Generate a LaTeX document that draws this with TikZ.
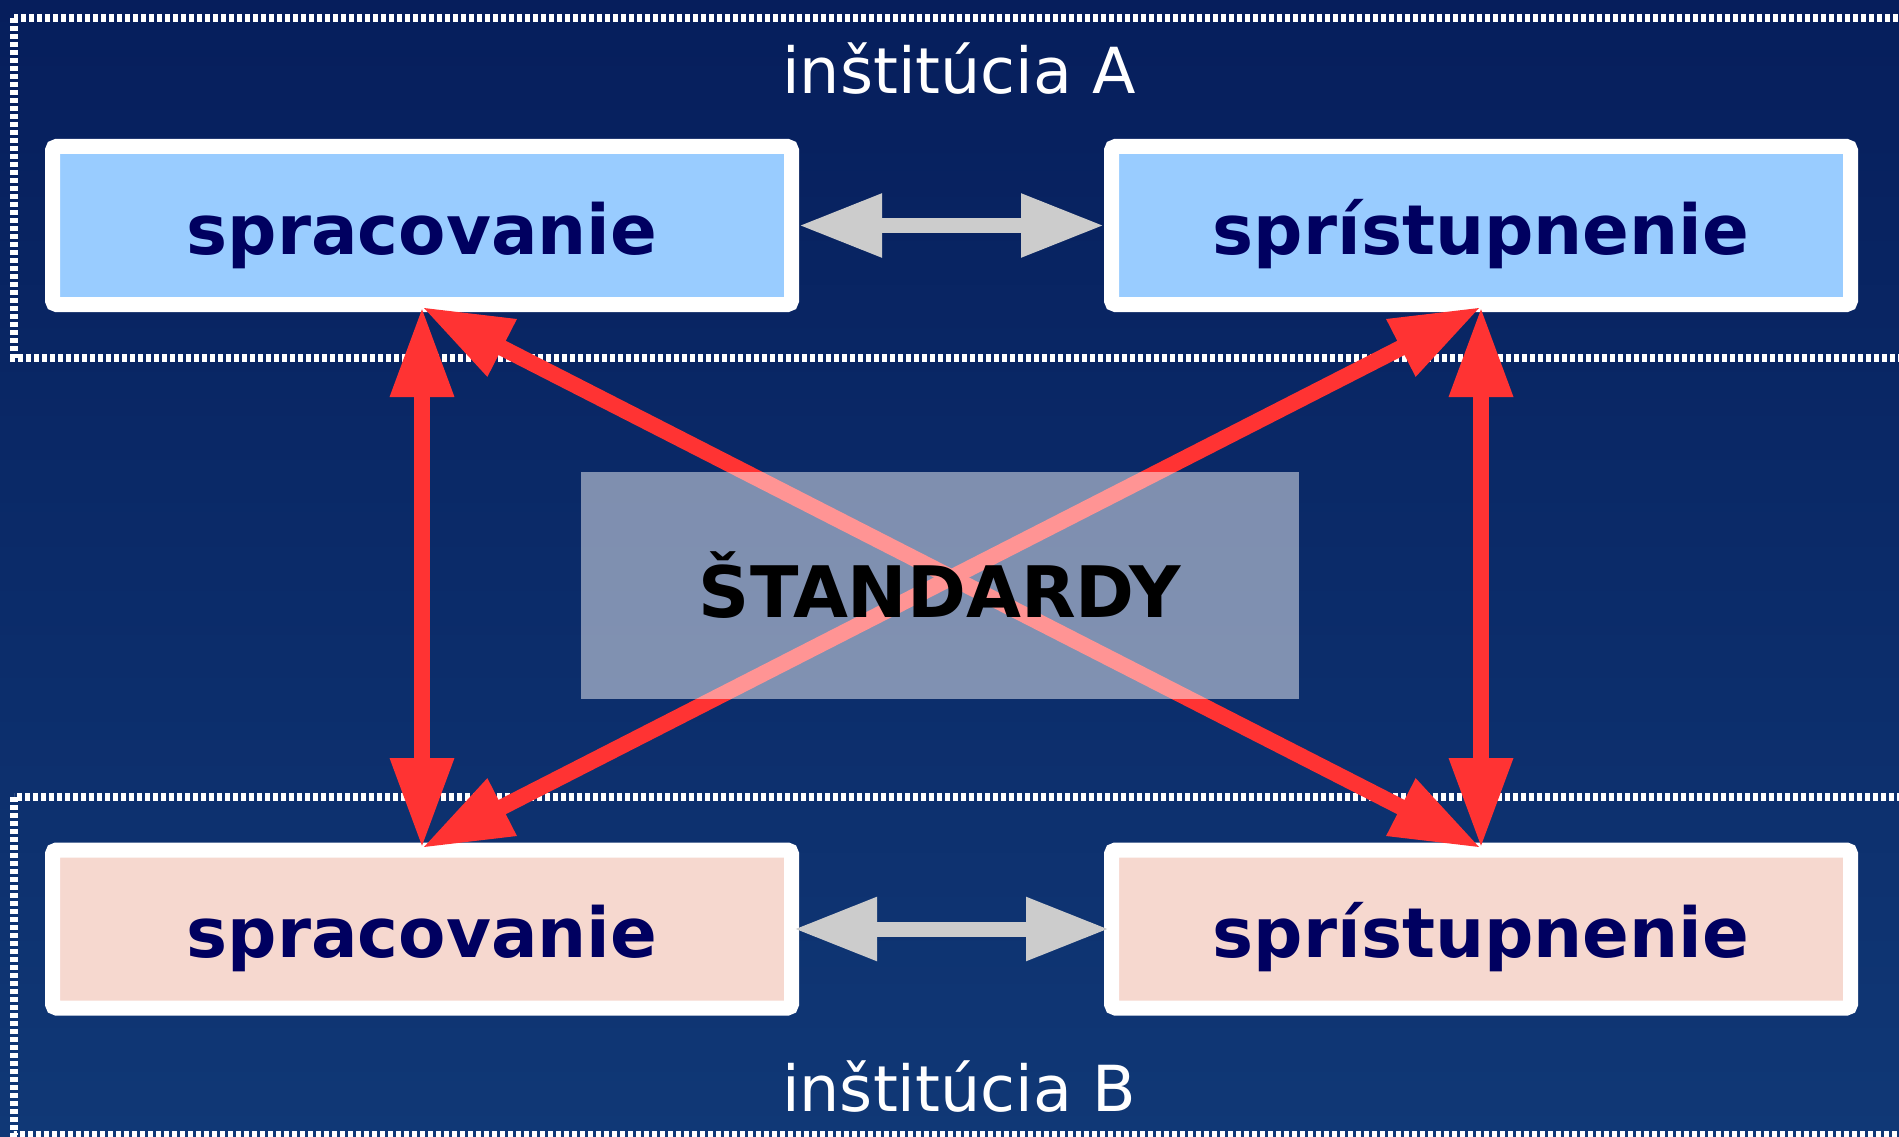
\documentclass[tikz,border=0pt]{standalone}
\usepackage{fontspec}
\setmainfont{DejaVu Sans}
\usetikzlibrary{arrows.meta}
\definecolor{bgtop}{RGB}{6,30,92}
\definecolor{bgbot}{RGB}{16,56,118}
\definecolor{boxblue}{RGB}{153,204,255}
\definecolor{boxpink}{RGB}{246,216,207}
\definecolor{navytext}{RGB}{0,0,96}
\definecolor{redarrow}{RGB}{255,51,51}
\definecolor{greyarrow}{RGB}{204,204,204}
\tikzset{
  procbox/.style={rectangle, draw=white, line width=15pt, rounded corners=4pt,
    minimum width=739pt, minimum height=158pt, inner sep=0pt,
    text height=57pt, text depth=0pt,
    font=\fontsize{69}{80}\selectfont\bfseries, text=navytext},
  instbox/.style={draw=white, line width=8pt, dash pattern=on 5pt off 3pt},
  instlabel/.style={text=white, font=\fontsize{63.5}{70}\selectfont, inner sep=0pt},
  redarr/.style={draw=redarrow, line width=16pt,
    {Triangle[length=90pt,width=60pt]}-{Triangle[length=90pt,width=60pt]}},
  greyarr/.style={draw=greyarrow, line width=15pt,
    {Triangle[length=83pt,width=60pt]}-{Triangle[length=83pt,width=60pt]}},
  stdbox/.style={rectangle, fill=white, fill opacity=0.48, text opacity=1,
    minimum width=718pt, minimum height=227pt, inner sep=0pt,
    font=\fontsize{71}{80}\selectfont\bfseries, text=black}
}
\begin{document}
\begin{tikzpicture}[x=1pt,y=-1pt]
\useasboundingbox (0,0) rectangle (1899,1137);
\begin{scope}
\clip (0,0) rectangle (1899,1137);
\shade[top color=bgtop, bottom color=bgbot] (0,0) rectangle (1899,1137);
\draw[instbox] (14,18) rectangle (1920,358);
\draw[instbox] (14,797) rectangle (1920,1135);
\end{scope}
\node[instlabel] (instA) at (959,69) {inštitúcia A};
\node[instlabel] (instB) at (959,1087) {inštitúcia B};
\node[procbox, fill=boxblue] (spA) at (422,225.5) {spracovanie};
\node[procbox, fill=boxblue] (prA) at (1481,225.5) {sprístupnenie};
\node[procbox, fill=boxpink] (spB) at (422,929) {spracovanie};
\node[procbox, fill=boxpink] (prB) at (1481,929) {sprístupnenie};
\coordinate (spAb) at (422,307);
\coordinate (prAb) at (1481,307);
\coordinate (spBt) at (422,848);
\coordinate (prBt) at (1481,848);
\draw[greyarr] (spA.east) -- (prA.west);
\draw[greyarr] ([xshift=-5pt]spB.east) -- ([xshift=5pt]prB.west);
\draw[redarr] (spAb) -- (spBt);
\draw[redarr] (prAb) -- (prBt);
\draw[redarr] (spAb) -- (prBt);
\draw[redarr] (prAb) -- (spBt);
\node[stdbox] (std) at (940,585.5) {ŠTANDARDY};
\end{tikzpicture}
\end{document}
